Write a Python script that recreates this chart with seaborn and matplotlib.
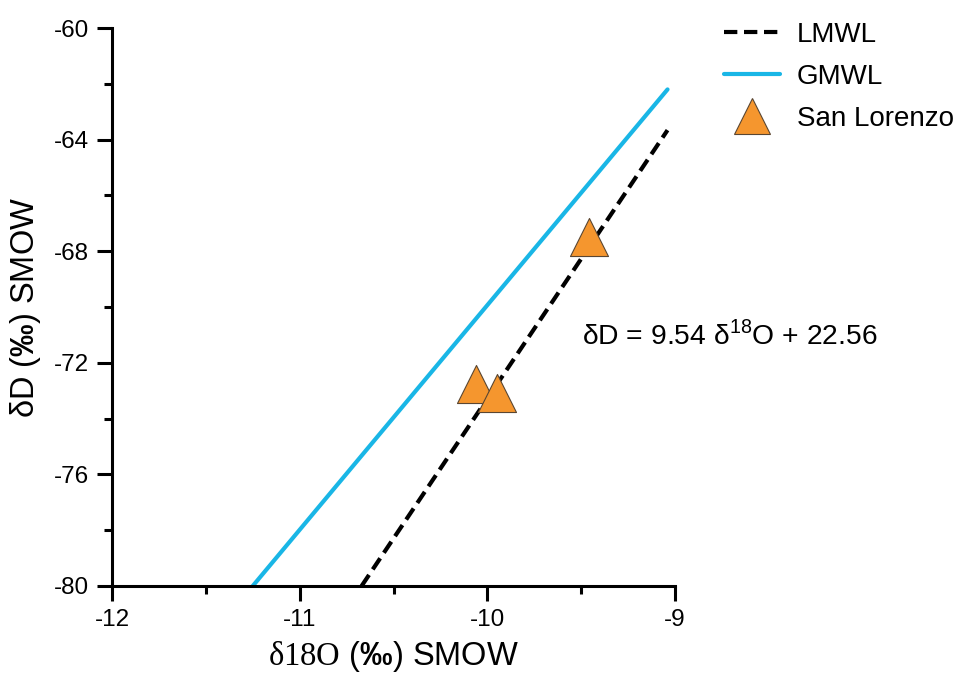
import matplotlib
matplotlib.use("Agg")
import matplotlib.pyplot as plt
import seaborn as sns
import pandas as pd
from matplotlib.ticker import MultipleLocator
from matplotlib.lines import Line2D

# ---- data ----
lmwl_x = [-10.67, -9.04]
lmwl_y = [-80.0, -63.66]
gmwl_x = [-11.25, -9.04]
gmwl_y = [-80.0, -62.2]
sample_x = [-9.46, -10.06, -9.95]
sample_y = [-67.5, -72.75, -73.1]
x_ticks = [-12, -11, -10, -9]
y_ticks = [-80, -76, -72, -68, -64, -60]
equation = "δD = 9.54 δ$^{\\mathsf{18}}$O + 22.56"

sns.set_theme(style="ticks")
plt.rcParams['font.family'] = ['Liberation Sans', 'DejaVu Sans']
plt.rcParams['mathtext.fontset'] = 'custom'
plt.rcParams['mathtext.rm'] = 'Liberation Serif'
plt.rcParams['mathtext.sf'] = 'Liberation Sans'
plt.rcParams['mathtext.bf'] = 'Liberation Sans:bold'
plt.rcParams['text.color'] = 'black'
plt.rcParams['axes.labelcolor'] = 'black'

fig = plt.figure(figsize=(9.62, 6.84), dpi=100)
ax = fig.add_axes([0.1164, 0.1433, 0.5853, 0.8157])

lm = pd.DataFrame({"x": lmwl_x, "y": lmwl_y})
gm = pd.DataFrame({"x": gmwl_x, "y": gmwl_y})
sp = pd.DataFrame({"x": sample_x, "y": sample_y})

sns.lineplot(data=gm, x="x", y="y", ax=ax, color="#19B6E6", lw=3.0,
             sort=False, estimator=None)
sns.lineplot(data=lm, x="x", y="y", ax=ax, color="black", lw=3.0,
             sort=False, estimator=None, dashes=False)
ax.lines[-1].set_dashes([3.2, 1.6])
sns.scatterplot(data=sp, x="x", y="y", ax=ax, marker="^", s=750,
                color="#F5962E", edgecolor="#5a4632", linewidth=0.8,
                zorder=5, clip_on=False)

ax.set_xlim(-12, -9)
ax.set_ylim(-80, -60)
ax.set_xticks(x_ticks)
ax.set_yticks(y_ticks)
ax.xaxis.set_minor_locator(MultipleLocator(0.5))
ax.yaxis.set_minor_locator(MultipleLocator(2))
ax.set_xticklabels([str(t) for t in x_ticks])
ax.set_yticklabels([str(t) for t in y_ticks])

for s in ["top", "right"]:
    ax.spines[s].set_visible(False)
for s in ["left", "bottom"]:
    ax.spines[s].set_linewidth(2.2)
    ax.spines[s].set_color("black")
ax.tick_params(which="major", length=10.5, width=2.2, labelsize=17.5, pad=6,
               colors="black")
ax.tick_params(which="minor", length=6, width=2.2, colors="black")

ax.set_xlabel(r"$\mathrm{δ18O}$ ($\mathbf{‰}$) SMOW", fontsize=23.5, labelpad=6)
ax.set_ylabel(r"δD ($\mathbf{‰}$) SMOW", fontsize=23.5, labelpad=8)

ax.text(-9.495, -71.0, equation, fontsize=20.3, ha="left", va="center",
        clip_on=False)

handles = [
    Line2D([], [], color="black", lw=3.0, dashes=[3.2, 1.6]),
    Line2D([], [], color="#19B6E6", lw=3.0),
    Line2D([], [], marker="^", ls="none", markersize=26,
           markerfacecolor="#F5962E", markeredgecolor="#5a4632",
           markeredgewidth=0.8),
]
leg = fig.legend(handles, ["LMWL", "GMWL", "San Lorenzo"],
                 loc="upper left", bbox_to_anchor=(0.727, 1.005),
                 frameon=False, fontsize=20, handlelength=2.0,
                 labelspacing=0.58, handletextpad=0.6)

fig.savefig("out.png", dpi=100)
